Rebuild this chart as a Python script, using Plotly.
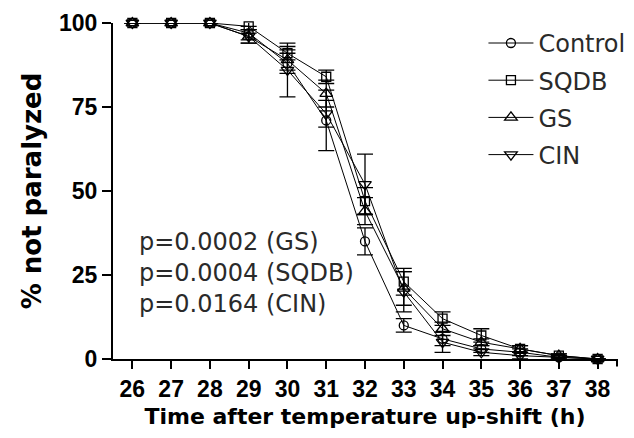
import plotly.graph_objects as go

hours = [26, 27, 28, 29, 30, 31, 32, 33, 34, 35, 36, 37, 38]

control = [100, 100, 100, 97, 88, 71, 35, 10, 6, 3, 2, 0.5, 0]
sqdb = [100, 100, 100, 99, 91, 84, 47, 23, 12, 7, 3, 1, 0]
gs = [100, 100, 100, 96, 89, 79, 44, 21, 9, 5, 3, 1, 0]
cin = [100, 100, 100, 96, 86, 73, 52, 20, 5, 2, 1, 0.5, 0]

control_err = [0, 0, 0, 2, 3, 9, 4, 2, 2, 1, 1, 0.5, 0]
sqdb_err = [0, 0, 0, 2, 2, 2, 4, 4, 2, 2, 1, 0.5, 0]
gs_err = [0, 0, 0, 2, 3, 4, 4, 5, 2, 1, 1, 0.5, 0]
cin_err = [0, 0, 0, 2, 8, 4, 9, 6, 3, 1, 1, 0.5, 0]

series_names = ["Control", "SQDB", "GS", "CIN"]
series_vals = [control, sqdb, gs, cin]
series_errs = [control_err, sqdb_err, gs_err, cin_err]
symbols = ["circle-open", "square-open", "triangle-up-open", "triangle-down-open"]
sizes = [9, 9, 11, 11]

y_ticks = [0, 25, 50, 75, 100]
p_text = ["p=0.0002 (GS)", "p=0.0004 (SQDB)", "p=0.0164 (CIN)"]

TICK_FONT = "Liberation Sans Narrow, Arial Narrow, Liberation Sans, Arial"
TEXT_FONT = "DejaVu Sans"

fig = go.Figure()
for i, (name, vals, errs, sym, sz) in enumerate(zip(series_names, series_vals, series_errs, symbols, sizes)):
    fig.add_trace(go.Scatter(
        x=hours, y=vals, name=name, mode="lines+markers",
        legendgroup=name,
        line=dict(color="black", width=1),
        marker=dict(symbol=sym, size=sz, color="black", line=dict(width=1.3, color="black")),
        error_y=dict(type="data", array=errs, visible=True, color="black", thickness=1.3, width=8),
        cliponaxis=False,
    ))

fig.add_annotation(
    x=0.047, y=0.256, xref="paper", yref="paper", xanchor="left", yanchor="middle",
    text="<br>".join(p_text), showarrow=False, align="left",
    font=dict(family=TEXT_FONT, size=24, color="#2a2a2a"),
)

# end tick of x axis
fig.add_shape(type="line", xref="paper", yref="paper", x0=1, x1=1, y0=0, y1=-0.022,
              line=dict(color="black", width=2))

fig.update_layout(
    width=626, height=430,
    margin=dict(l=105, r=17, t=15, b=79, autoexpand=False),
    paper_bgcolor="white", plot_bgcolor="white",
    showlegend=True,
    legend=dict(
        x=0.735, y=0.970, xanchor="left", yanchor="top", yref="container",
        font=dict(family=TEXT_FONT, size=24, color="#2a2a2a"),
        itemwidth=45, tracegroupgap=3, bgcolor="rgba(0,0,0,0)",
    ),
    xaxis=dict(
        range=[25.5, 38.5], tickmode="array", tickvals=hours, ticktext=[str(h) for h in hours],
        showline=True, linecolor="black", linewidth=2, ticks="outside", ticklen=8, tickwidth=2,
        tickcolor="black", showgrid=False, zeroline=False,
        tickfont=dict(family=TICK_FONT, size=23, color="black", weight="bold"),
        title=dict(text="Time after temperature up-shift (h)", standoff=8,
                   font=dict(family=TEXT_FONT, size=22, color="black", weight="bold")),
    ),
    yaxis=dict(
        range=[0, 100], tickmode="array", tickvals=y_ticks,
        showline=True, linecolor="black", linewidth=2, ticks="outside", ticklen=9, tickwidth=2,
        tickcolor="black", showgrid=False, zeroline=False,
        tickfont=dict(family=TICK_FONT, size=23, color="black", weight="bold"),
        title=dict(text="% not paralyzed", standoff=10,
                   font=dict(family=TEXT_FONT, size=26, color="black", weight="bold")),
    ),
)

fig.write_html("out.html")
